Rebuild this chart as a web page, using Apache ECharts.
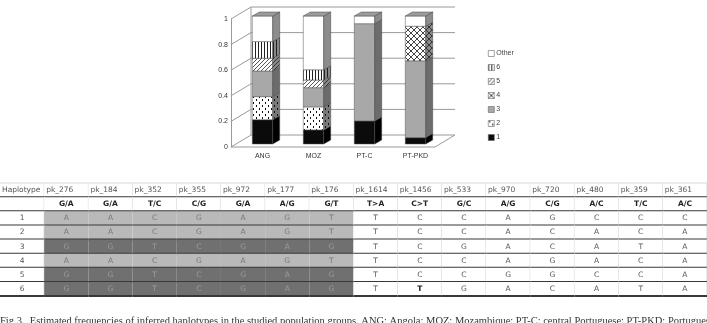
<!DOCTYPE html>
<html>
<head>
<meta charset="utf-8">
<script src="https://cdn.jsdelivr.net/npm/echarts@6/dist/echarts.min.js"></script>
<style>
  html, body { margin: 0; padding: 0; background: #fff; }
  #chart { width: 707px; height: 323px; }
</style>
</head>
<body>
<div id="chart"></div>
<script>
// bar chart data
const populations = ['ANG', 'MOZ', 'PT-C', 'PT-PKD']
const hap1 = [0.19, 0.11, 0.18, 0.05]
const hap2 = [0.18, 0.18, 0, 0]
const hap3 = [0.20, 0.15, 0.76, 0.60]
const hap4 = [0, 0, 0, 0.27]
const hap5 = [0.10, 0.06, 0, 0]
const hap6 = [0.13, 0.08, 0, 0]
const hapOther = [0.20, 0.42, 0.06, 0.08]
const yTicks = [0, 0.2, 0.4, 0.6, 0.8, 1]
const legendOrder = ['Other', '6', '5', '4', '3', '2', '1']

// table data
const tableHead = 'Haplotype'
const markers = ['pk_276', 'pk_184', 'pk_352', 'pk_355', 'pk_972', 'pk_177', 'pk_176',
  'pk_1614', 'pk_1456', 'pk_533', 'pk_970', 'pk_720', 'pk_480', 'pk_359', 'pk_361']
const alleles = ['G/A', 'G/A', 'T/C', 'C/G', 'G/A', 'A/G', 'G/T',
  'T>A', 'C>T', 'G/C', 'A/G', 'C/G', 'A/C', 'T/C', 'A/C']
const haplotypeRows = [
  'AACGAGTTCCAGCCC',
  'AACGAGTTCCACACA',
  'GGTCGAGTCGACATA',
  'AACGAGTTCCAGACA',
  'GGTCGAGTCCGGCCA',
  'GGTCGAGTTGACATA',
]
const linkedBlock = 7 // first markers shaded as one block
const boldCells = [[5, 8]]

const caption = 'Fig 3.  Estimated frequencies of inferred haplotypes in the studied population groups. ANG: Angola; MOZ: Mozambique; PT-C: central Portuguese; PT-PKD: Portuguese PKD patients.'

// 3d look
const DEPTH = [20, -12]
const BAR_SHIFT = [6, -3]
const BAR_SIDE = [7, -4]

function makePattern(bg, fg, size, draw) {
  const c = document.createElement('canvas')
  c.width = c.height = size
  const g = c.getContext('2d')
  g.fillStyle = bg
  g.fillRect(0, 0, size, size)
  g.fillStyle = fg
  draw(g, size)
  return { image: c, repeat: 'repeat' }
}
const dots = (g) => { g.fillRect(1, 0, 1, 2); g.fillRect(4, 3, 1, 2) }
const vstripes = (g) => { g.fillRect(0, 0, 1, 3) }
const diag = (g, n) => { for (let i = 0; i < n; i++) g.fillRect(i, n - 1 - i, 1, 1) }
const cross = (g, n) => { for (let i = 0; i < n; i++) { g.fillRect(i, i, 1, 1); g.fillRect(i, n - 1 - i, 1, 1) } }

const haplotypes = [
  { name: '1', values: hap1, front: '#0b0b0b', side: '#000000' },
  { name: '2', values: hap2, front: makePattern('#fff', '#111', 6, dots), side: makePattern('#7a7a7a', '#111', 6, dots) },
  { name: '3', values: hap3, front: '#a8a8a8', side: '#6c6c6c' },
  { name: '4', values: hap4, front: makePattern('#fff', '#444', 6, cross), side: makePattern('#8a8a8a', '#333', 6, cross) },
  { name: '5', values: hap5, front: makePattern('#fff', '#555', 4, diag), side: makePattern('#888', '#333', 4, diag) },
  { name: '6', values: hap6, front: makePattern('#fff', '#222', 3, vstripes), side: makePattern('#888', '#222', 3, vstripes) },
  { name: 'Other', values: hapOther, front: '#ffffff', side: '#8c8c8c' },
]

const bases = populations.map(() => 0)
const barSeries = haplotypes.map((h) => {
  const data = populations.map((p, i) => {
    const d = [i, h.values[i], bases[i]]
    bases[i] += h.values[i]
    return d
  })
  return {
    name: h.name,
    type: 'custom',
    xAxisIndex: 0,
    yAxisIndex: 0,
    z: 3,
    itemStyle: { color: h.front, borderColor: '#666', borderWidth: 0.6 },
    encode: { x: 0, y: 1 },
    data,
    renderItem: (params, api) => {
      const cat = api.value(0), v = api.value(1), base = api.value(2)
      if (!v) return null
      const w = api.size([1, 0])[0] * 0.4
      const xc = api.coord([cat, 0])[0] + BAR_SHIFT[0]
      const yb = api.coord([cat, base])[1] + BAR_SHIFT[1]
      const yt = api.coord([cat, base + v])[1] + BAR_SHIFT[1]
      const xl = xc - w / 2, xr = xc + w / 2
      const [sx, sy] = BAR_SIDE
      const children = [
        { type: 'rect', shape: { x: xl, y: yt, width: w, height: yb - yt },
          style: { fill: h.front, stroke: '#555', lineWidth: 0.5 } },
        { type: 'polygon', shape: { points: [[xr, yt], [xr + sx, yt + sy], [xr + sx, yb + sy], [xr, yb]] },
          style: { fill: h.side, stroke: '#444', lineWidth: 0.5 } },
      ]
      if (base + v > 0.999) {
        children.push({ type: 'polygon', shape: { points: [[xl, yt], [xl + sx, yt + sy], [xr + sx, yt + sy], [xr, yt]] },
          style: { fill: '#9c9c9c', stroke: '#444', lineWidth: 0.5 } })
      }
      return { type: 'group', children }
    },
  }
})

// back wall, floor and left wall lines
const frameSeries = {
  type: 'custom',
  silent: true,
  xAxisIndex: 0,
  yAxisIndex: 0,
  z: 1,
  encode: { x: 0, y: 1 },
  data: yTicks.map((v) => [0, v]),
  renderItem: (params, api) => {
    const cs = params.coordSys
    const L = cs.x, R = cs.x + cs.width
    const v = api.value(1)
    const y = api.coord([0, v])[1]
    const y0 = api.coord([0, 0])[1]
    const [dx, dy] = DEPTH
    const line = { stroke: '#9a9a9a', lineWidth: 1, fill: null }
    const children = [
      { type: 'polyline', shape: { points: [[L, y], [L + dx, y + dy], [R + dx, y + dy]] }, style: line },
    ]
    if (v === 0) {
      children.push({ type: 'line', shape: { x1: L, y1: y, x2: R, y2: y }, style: line })
      children.push({ type: 'line', shape: { x1: R, y1: y, x2: R + dx, y2: y + dy }, style: line })
    }
    if (v === yTicks[yTicks.length - 1]) {
      children.push({ type: 'line', shape: { x1: L + dx, y1: y + dy, x2: L + dx, y2: y0 + dy }, style: line })
    }
    return { type: 'group', children }
  },
}

// table cells
const cells = []
cells.push({ col: 0, row: 0, text: tableHead, kind: 'head' })
markers.forEach((m, c) => cells.push({ col: c + 1, row: 0, text: m, kind: 'head' }))
cells.push({ col: 0, row: 1, text: '', kind: 'allele' })
alleles.forEach((a, c) => cells.push({ col: c + 1, row: 1, text: a, kind: 'allele' }))
haplotypeRows.forEach((seq, r) => {
  cells.push({ col: 0, row: r + 2, text: String(r + 1), kind: 'plain' })
  seq.split('').forEach((a, c) => {
    let kind = 'plain'
    if (c < linkedBlock) kind = seq[0] === 'A' ? 'light' : 'dark'
    if (boldCells.some(([br, bc]) => br === r && bc === c)) kind = 'bold'
    cells.push({ col: c + 1, row: r + 2, text: a, kind })
  })
})

const cellFill = { light: '#b9b9b9', dark: '#707070' }
const cellText = { head: '#555', allele: '#222', plain: '#555', light: '#777', dark: '#9c9c9c', bold: '#111' }

const tableSeries = {
  type: 'custom',
  silent: true,
  xAxisIndex: 1,
  yAxisIndex: 1,
  z: 2,
  encode: { x: 0, y: 1 },
  data: cells.map((c) => [c.col, c.row]),
  renderItem: (params, api) => {
    const cell = cells[params.dataIndex]
    const p = api.coord([api.value(0), api.value(1)])
    const s = api.size([1, 1])
    const x0 = p[0] - s[0] / 2, y0 = p[1] - s[1] / 2
    const shaded = cell.kind === 'light' || cell.kind === 'dark'
    const children = [
      { type: 'rect', shape: { x: x0, y: y0, width: s[0], height: s[1] },
        style: { fill: cellFill[cell.kind] || '#fff' } },
    ]
    if (!shaded) {
      children.push({ type: 'line', shape: { x1: x0 + s[0], y1: y0, x2: x0 + s[0], y2: y0 + s[1] },
        style: { stroke: '#d2d2d2', lineWidth: 1 } })
    }
    if (cell.row === 0) {
      children.push({ type: 'line', shape: { x1: x0, y1: y0, x2: x0 + s[0], y2: y0 },
        style: { stroke: '#d8d8d8', lineWidth: 1 } })
    }
    children.push({ type: 'line', shape: { x1: x0, y1: y0 + s[1], x2: x0 + s[0], y2: y0 + s[1] },
      style: { stroke: '#383838', lineWidth: 1.8 } })
    const bold = cell.kind === 'allele' || cell.kind === 'bold'
    children.push({
      type: 'text',
      x: cell.kind === 'head' ? x0 + 2 : p[0],
      y: p[1],
      style: {
        text: cell.text,
        fill: cellText[cell.kind],
        font: (bold ? 'bold ' : '') + '7.5px "DejaVu Sans"',
        align: cell.kind === 'head' ? 'left' : 'center',
        verticalAlign: 'middle',
      },
    })
    return { type: 'group', children }
  },
}

const myChart = echarts.init(document.getElementById('chart'), null, { renderer: 'canvas' })
const option = {
  animation: false,
  backgroundColor: '#fff',
  legend: {
    data: legendOrder,
    orient: 'vertical',
    left: 483,
    top: 45,
    icon: 'rect',
    itemWidth: 6,
    itemHeight: 6,
    itemGap: 7,
    selectedMode: false,
    itemStyle: { borderColor: '#666', borderWidth: 0.6 },
    textStyle: { fontSize: 7, lineHeight: 7, color: '#444', fontFamily: 'Liberation Sans', padding: [0, 0, 0, -3] },
  },
  grid: [
    { left: 231, right: 272, top: 19, bottom: 176, outerBoundsMode: 'none' },
    { left: 0, right: 0, top: 183, bottom: 27, outerBoundsMode: 'none' },
  ],
  xAxis: [
    {
      type: 'category',
      gridIndex: 0,
      data: populations,
      axisLine: { show: false },
      axisTick: { show: false },
      axisLabel: { fontSize: 7, color: '#333', margin: 6, padding: [0, 0, 0, 12], fontFamily: 'Liberation Sans' },
    },
    {
      type: 'category',
      gridIndex: 1,
      data: ['', ...markers],
      show: false,
    },
  ],
  yAxis: [
    {
      type: 'value',
      gridIndex: 0,
      min: 0,
      max: 1,
      interval: 0.2,
      axisLine: { show: true, lineStyle: { color: '#9a9a9a' } },
      axisTick: { show: false },
      splitLine: { show: false },
      axisLabel: { fontSize: 7, color: '#333', margin: 3, fontFamily: 'Liberation Sans' },
    },
    {
      type: 'category',
      gridIndex: 1,
      data: ['head', 'alleles', ...haplotypeRows.map((r, i) => String(i + 1))],
      inverse: true,
      show: false,
    },
  ],
  graphic: [
    {
      type: 'text',
      left: 0,
      top: 316,
      style: { text: caption, font: '10.5px "Liberation Serif"', fill: '#333' },
    },
  ],
  series: [frameSeries, ...barSeries, tableSeries],
}
myChart.setOption(option)
</script>
</body>
</html>
